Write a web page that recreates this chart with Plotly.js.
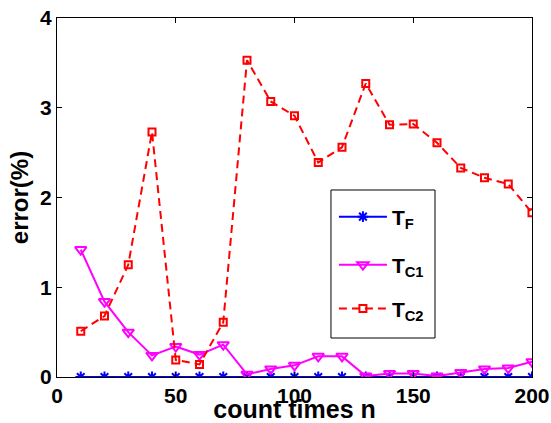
<!DOCTYPE html>
<html>
<head>
<meta charset="utf-8">
<script src="https://cdn.plot.ly/plotly-3.0.1.min.js"></script>
<style>html,body{margin:0;padding:0;background:#fff;}#chart{width:551px;height:423px;}</style>
</head>
<body>
<div id="chart"></div>
<script>
const countTimes = [10,20,30,40,50,60,70,80,90,100,110,120,130,140,150,160,170,180,190,200];
const errTF  = [0,0,0,0,0,0,0,0,0,0,0,0,0,0,0,0,0,0,0,0];
const errTC1 = [1.42,0.84,0.50,0.24,0.34,0.25,0.36,0.03,0.09,0.13,0.23,0.23,0.01,0.04,0.04,0.01,0.05,0.09,0.10,0.17];
const errTC2 = [0.51,0.68,1.25,2.73,0.19,0.14,0.61,3.53,3.07,2.91,2.39,2.56,3.27,2.81,2.82,2.61,2.33,2.22,2.15,1.83];
const seriesNames = ['T<sub>F</sub>','T<sub>C1</sub>','T<sub>C2</sub>'];

const font = 'Liberation Sans, Arial, sans-serif';
const traces = [
  {x: countTimes, y: errTF, name: seriesNames[0], type: 'scatter', mode: 'lines+markers', legend: 'legend',
   line: {color: '#0000ff', width: 2},
   marker: {symbol: 'asterisk-open', size: 9, color: '#0000ff', line: {color: '#0000ff', width: 2}}},
  {x: countTimes, y: errTC1, name: seriesNames[1], type: 'scatter', mode: 'lines+markers', legend: 'legend2',
   line: {color: '#ff00ff', width: 2},
   marker: {symbol: 'triangle-down-open', size: 10, color: '#ff00ff', line: {color: '#ff00ff', width: 2}}},
  {x: countTimes, y: errTC2, name: seriesNames[2], type: 'scatter', mode: 'lines+markers', legend: 'legend3',
   line: {color: '#ff0000', width: 2, dash: '8px,5px'},
   marker: {symbol: 'square-open', size: 7, color: '#ff0000', line: {color: '#ff0000', width: 2}}}
];

const axisCommon = {
  showline: true, mirror: 'ticks', linecolor: '#000', linewidth: 1,
  ticks: 'inside', ticklen: 5, tickcolor: '#000', tickwidth: 1,
  showgrid: false, zeroline: false,
  tickfont: {family: font, size: 21, color: '#000', weight: 'bold'}
};

const legendFont = {family: font, size: 21, color: '#000', weight: 'bold'};
function legendAt(yCenter) {
  return {x: 0.583, y: yCenter, xanchor: 'left', yanchor: 'middle', itemwidth: 48,
          bgcolor: 'rgba(0,0,0,0)', borderwidth: 0, font: legendFont};
}

const layout = {
  width: 551, height: 423,
  margin: {l: 57, r: 19, t: 18, b: 46},
  paper_bgcolor: '#fff', plot_bgcolor: '#fff',
  showlegend: true,
  xaxis: Object.assign({}, axisCommon, {
    range: [0, 200], tickvals: [0,50,100,150,200], automargin: false,
    title: {text: 'count times n', font: {family: font, size: 25, color: '#000', weight: 'bold'}, standoff: 3}
  }),
  yaxis: Object.assign({}, axisCommon, {
    range: [0, 4], tickvals: [0,1,2,3,4], automargin: false,
    title: {text: 'error(%)', font: {family: font, size: 24, color: '#000', weight: 'bold'}, standoff: 4}
  }),
  legend: legendAt(0.4457),
  legend2: legendAt(0.312),
  legend3: legendAt(0.19),
  shapes: [{type: 'rect', xref: 'paper', yref: 'paper', x0: 0.5768, x1: 0.7958, y0: 0.1086, y1: 0.5209,
            line: {color: '#000', width: 1}, fillcolor: '#fff', layer: 'above'}]
};

Plotly.newPlot('chart', traces, layout, {displayModeBar: false, staticPlot: true});
</script>
</body>
</html>
